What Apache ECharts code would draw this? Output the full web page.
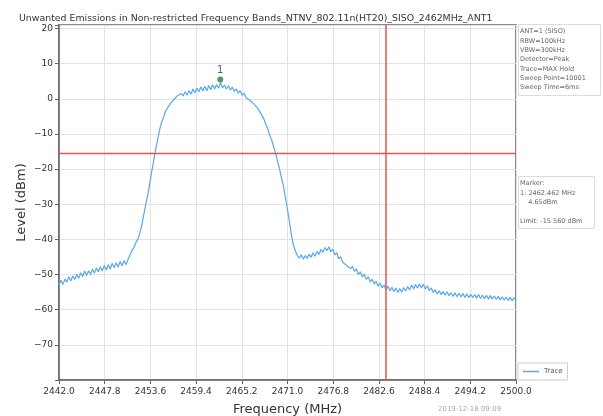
<!DOCTYPE html>
<html lang="en">
<head>
<meta charset="UTF-8">
<title>Unwanted Emissions</title>
<script src="https://cdn.jsdelivr.net/npm/echarts@6/dist/echarts.min.js"></script>
<style>
  html, body { margin: 0; padding: 0; background: #fff; }
</style>
</head>
<body>
<div id="chart" style="width: 603px; height: 416px;"></div>
<script>
const freqStart = 2442.0;
const freqStep = 0.25;
const levels = [
  -52.9, -51.6, -52.8, -51.3, -52.1, -50.6, -51.8, -50.4,
  -51.4, -49.9, -51.1, -49.5, -50.6, -49.0, -50.3, -48.9,
  -50.0, -48.5, -49.6, -48.1, -49.3, -47.8, -49.0, -47.4,
  -48.7, -47.2, -48.5, -46.8, -48.1, -46.6, -47.9, -46.3,
  -47.5, -46.0, -47.2, -45.7, -46.0, -43.2, -42.3, -40.9,
  -40.0, -38.3, -36.0, -33.1, -30.2, -27.4, -24.3, -20.9,
  -17.8, -14.6, -11.8, -9.0, -6.8, -5.4, -3.6, -3.1,
  -1.8, -1.6, -0.4, -0.5, 0.8, 0.3, 1.5, 0.8,
  2.0, 1.0, 2.4, 1.3, 2.8, 1.7, 3.1, 2.0,
  3.4, 2.2, 3.6, 2.3, 3.8, 2.6, 4.0, 2.8,
  4.1, 3.0, 4.65, 3.1, 3.9, 2.8, 3.7, 2.5,
  3.3, 2.1, 2.8, 1.6, 2.3, 1.0, 1.6, 0.3,
  0.8, -0.5, -0.2, -1.5, -1.4, -2.8, -3.1, -4.7,
  -5.7, -7.3, -8.6, -10.4, -11.8, -13.7, -15.5, -17.9,
  -20.1, -22.6, -25.0, -28.3, -31.6, -35.0, -38.8, -41.6,
  -43.3, -44.6, -45.3, -44.4, -45.6, -44.6, -45.4, -44.2,
  -45.1, -43.8, -44.8, -43.4, -44.3, -42.8, -43.7, -42.3,
  -43.2, -42.1, -43.5, -42.8, -44.4, -43.8, -45.5, -44.9,
  -46.5, -46.0, -47.4, -46.9, -48.3, -47.7, -49.1, -48.4,
  -50.0, -49.2, -50.7, -49.9, -51.4, -50.6, -52.1, -51.3,
  -52.7, -51.9, -53.3, -52.4, -53.8, -52.9, -54.3, -53.3,
  -54.6, -53.6, -54.9, -53.8, -55.1, -54.0, -55.0, -53.7,
  -54.7, -53.4, -54.4, -53.0, -54.1, -52.8, -53.9, -52.7,
  -53.8, -52.8, -54.1, -53.2, -54.6, -53.8, -55.1, -54.3,
  -55.5, -54.6, -55.7, -54.8, -55.9, -54.9, -56.0, -55.1,
  -56.2, -55.2, -56.3, -55.3, -56.4, -55.4, -56.5, -55.5,
  -56.6, -55.6, -56.6, -55.7, -56.7, -55.7, -56.8, -55.8,
  -56.9, -55.9, -57.0, -56.0, -57.0, -56.1, -57.1, -56.2,
  -57.2, -56.3, -57.3, -56.4, -57.4, -56.5, -57.5, -56.6,
  -57.2
];

const marker = [2462.462, 4.65];
const limitLevel = -15.56;
const bandEdge = 2483.5;
const xRange = [2442, 2500];
const yRange = [-80, 21];

const settingsText = [
  'ANT=1 (SISO)', 'RBW=100kHz', 'VBW=300kHz', 'Detector=Peak',
  'Trace=MAX Hold', 'Sweep Point=10001', 'Sweep Time=6ms'
];
const markerText = [
  'Marker:', '1: 2462.462 MHz', '    4.65dBm', '', 'Limit: -15.560 dBm'
];

const traceData = levels.map((v, i) => [freqStart + i * freqStep, v]);
const font = 'DejaVu Sans';
const red = '#e8534e';

const chart = echarts.init(document.getElementById('chart'));
chart.setOption({
  animation: false,
  title: {
    text: 'Unwanted Emissions in Non-restricted Frequency Bands_NTNV_802.11n(HT20)_SISO_2462MHz_ANT1',
    left: 14, top: 9,
    textStyle: { fontFamily: font, fontSize: 9.4, fontWeight: 'normal', color: '#333' }
  },
  grid: {
    left: 59, right: 87, top: 25, bottom: 36,
    outerBoundsMode: 'none',
    show: true, borderColor: '#666', borderWidth: 1.5
  },
  legend: {
    data: [{ name: 'Trace', icon: 'rect' }],
    left: 518, top: 363,
    itemWidth: 16, itemHeight: 1.5, itemGap: 6,
    padding: [5, 5], borderColor: '#ccc', borderWidth: 1,
    textStyle: { fontFamily: font, fontSize: 7, color: '#555' }
  },
  xAxis: {
    type: 'value', min: xRange[0], max: xRange[1], interval: 5.8,
    name: 'Frequency (MHz)', nameLocation: 'middle', nameGap: 23,
    nameMoveOverlap: false,
    nameTextStyle: { fontFamily: font, fontSize: 13, color: '#333' },
    axisLine: { show: true, onZero: false, lineStyle: { color: '#666', width: 1.5 } },
    axisTick: { show: true, length: 4, lineStyle: { color: '#666' } },
    axisLabel: { fontFamily: font, fontSize: 9, color: '#333', margin: 7,
      formatter: v => v.toFixed(1) },
    splitLine: { show: true, lineStyle: { color: '#e3e3e3', width: 1 } }
  },
  yAxis: {
    type: 'value', min: yRange[0], max: yRange[1], interval: 10,
    name: 'Level (dBm)', nameLocation: 'middle', nameGap: 31,
    nameMoveOverlap: false,
    nameTextStyle: { fontFamily: font, fontSize: 13, color: '#333' },
    axisLine: { show: true, onZero: false, lineStyle: { color: '#666', width: 1.5 } },
    axisTick: { show: true, length: 4, lineStyle: { color: '#666' } },
    axisLabel: { fontFamily: font, fontSize: 9, color: '#333', margin: 6,
      formatter: v => (v % 10 === 0 && v > -80) ? String(v).replace('-', '\u2212') : '' },
    splitLine: { show: true, lineStyle: { color: '#e3e3e3', width: 1 } }
  },
  series: [
    {
      name: 'Limit', type: 'line', silent: true, symbol: 'none',
      data: [[xRange[0], limitLevel], [xRange[1], limitLevel]],
      lineStyle: { color: red, width: 1.5 }, z: 3
    },
    {
      name: 'Band edge', type: 'line', silent: true, symbol: 'none',
      data: [[bandEdge, yRange[0]], [bandEdge, yRange[1]]],
      lineStyle: { color: red, width: 1.5 }, z: 3
    },
    {
      name: 'Trace', type: 'line', data: traceData,
      symbol: 'none', silent: true,
      lineStyle: { color: '#5aa8e8', width: 1.2 },
      itemStyle: { color: '#5aa8e8' }, z: 2
    },
    {
      name: 'Marker', type: 'scatter', data: [marker],
      symbol: 'circle', symbolSize: 6, symbolOffset: [0, -3],
      itemStyle: { color: '#2e7d32' }, z: 4,
      label: { show: true, position: 'top', distance: 1, formatter: '1',
        fontFamily: font, fontSize: 10, color: '#333' }
    }
  ],
  graphic: [
    { type: 'rect', left: 518, top: 24, shape: { width: 82, height: 71 },
      style: { fill: '#fff', stroke: '#ddd', lineWidth: 1 } },
    { type: 'text', left: 520, top: 27,
      style: { text: settingsText.join('\n'), fontFamily: font, fontSize: 6.5,
        lineHeight: 9.3, fill: '#666' } },
    { type: 'rect', left: 518, top: 176, shape: { width: 76, height: 52 },
      style: { fill: '#fff', stroke: '#ddd', lineWidth: 1 } },
    { type: 'text', left: 520, top: 179,
      style: { text: markerText.join('\n'), fontFamily: font, fontSize: 6.5,
        lineHeight: 9.3, fill: '#666' } },
    { type: 'text', left: 438, top: 406,
      style: { text: '2019-12-18 09:09', fontFamily: font, fontSize: 7, fill: '#aaa' } }
  ]
});
</script>
</body>
</html>
